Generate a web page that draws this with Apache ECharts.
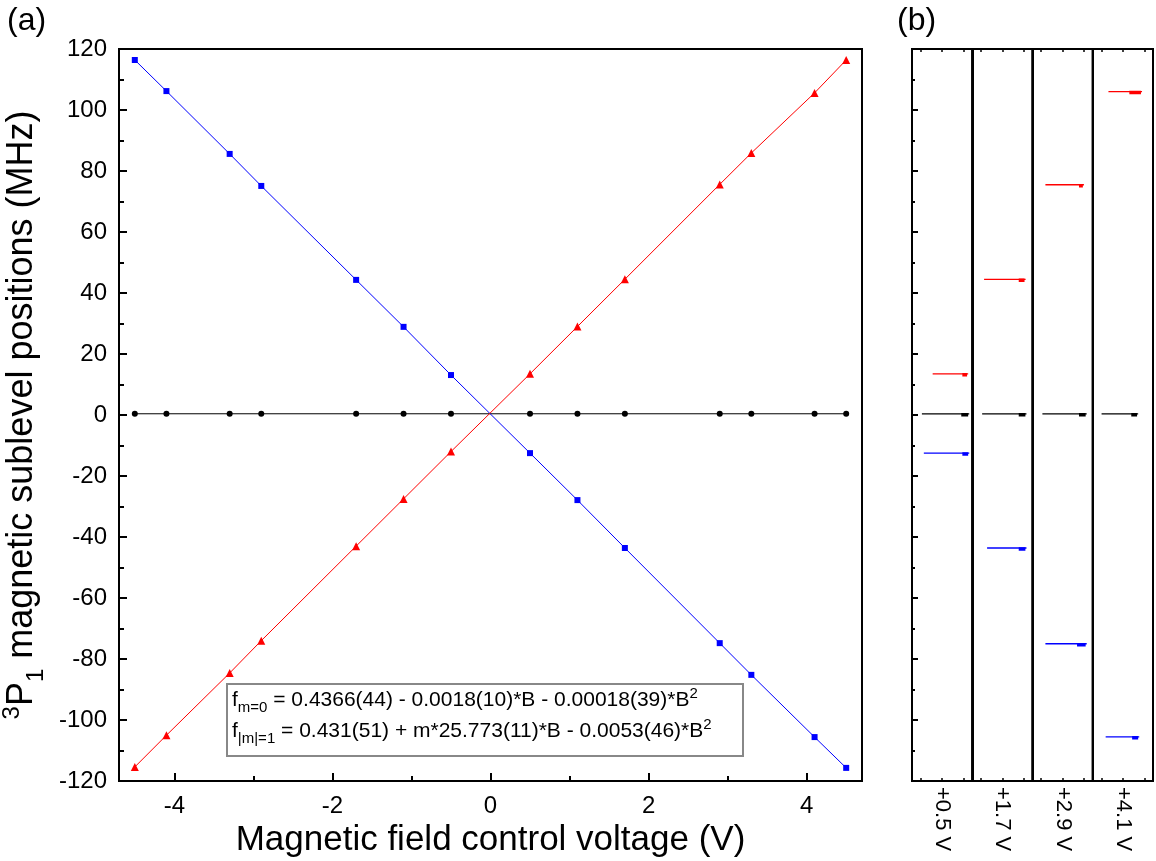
<!DOCTYPE html>
<html>
<head>
<meta charset="utf-8">
<script src="https://cdn.jsdelivr.net/npm/echarts@6/dist/echarts.min.js"></script>
<style>html,body{margin:0;padding:0;background:#fff}#c{width:1156px;height:861px}</style>
</head>
<body>
<div id="c"></div>
<script>
// ---- Data (panel a) ----
const voltages = [-4.5, -4.1, -3.3, -2.9, -1.7, -1.1, -0.5, 0.5, 1.1, 1.7, 2.9, 3.3, 4.1, 4.5];
const mMinus = [116.4, 106.2, 85.6, 75.1, 44.3, 28.9, 13.1, -12.5, -27.9, -43.6, -74.8, -85.2, -105.6, -115.7];
const mPlus  = [-115.4, -105.0, -84.6, -74.0, -43.0, -27.5, -12.0, 13.5, 29.0, 44.5, 75.6, 85.9, 105.6, 116.4];
const mZero  = [0.4, 0.4, 0.4, 0.4, 0.4, 0.4, 0.4, 0.4, 0.4, 0.4, 0.4, 0.4, 0.4, 0.4];
// ---- Data (panel b): [traceStart, peakStart, traceEnd, frequency] ----
const bLabels = ['+0.5 V', '+1.7 V', '+2.9 V', '+4.1 V'];
const peaksRed   = [[0.56, 1.94, 2.21, 13.5], [0.15, 1.76, 2.08, 44.5], [0.20, 1.76, 1.99, 75.5], [0.33, 1.30, 1.89, 106.0]];
const peaksBlack = [[0.06, 1.89, 2.26, 0.4], [0.06, 1.76, 2.12, 0.4], [0.06, 1.76, 2.12, 0.4], [0.01, 1.39, 1.71, 0.4]];
const peaksBlue  = [[0.15, 1.94, 2.26, -12.5], [0.29, 1.76, 2.12, -43.6], [0.20, 1.67, 2.12, -75.0], [0.20, 1.43, 1.76, -105.5]];

const FONT = 'Liberation Sans, Arial, sans-serif';
const chart = echarts.init(document.getElementById('c'), null, {renderer: 'canvas'});

const grids = [{left: 119, top: 49, width: 743, height: 732, outerBoundsMode: 'none', containLabel: false,
  show: true, borderColor: '#000', borderWidth: 2, backgroundColor: 'transparent'}];
const xAxes = [
  {gridIndex: 0, type: 'value', position: 'bottom', min: -4.7, max: 4.7, minInterval: 2, maxInterval: 2,
   axisLine: {show: true, onZero: false, lineStyle: {color: '#000', width: 2}},
   axisTick: {show: true, inside: true, length: 8, lineStyle: {color: '#000', width: 2}},
   axisLabel: {show: true, showMinLabel: false, showMaxLabel: false, color: '#000', fontSize: 24, fontFamily: FONT, margin: 13},
   splitLine: {show: false},
   name: 'Magnetic field control voltage (V)', nameLocation: 'middle', nameGap: 40,
   nameTextStyle: {color: '#000', fontSize: 35, fontFamily: FONT}},
  {gridIndex: 0, type: 'value', position: 'bottom', min: -4.7, max: 4.7, minInterval: 1, maxInterval: 1,
   axisLine: {show: false, onZero: false},
   axisTick: {show: true, inside: true, length: 5, lineStyle: {color: '#000', width: 2}},
   axisLabel: {show: false}, splitLine: {show: false}}
];
const yAxes = [
  {gridIndex: 0, type: 'value', min: -120, max: 120, interval: 20,
   axisLine: {show: true, onZero: false, lineStyle: {color: '#000', width: 2}},
   axisTick: {show: true, inside: true, length: 8, lineStyle: {color: '#000', width: 2}},
   minorTick: {show: true, splitNumber: 2, length: 5, lineStyle: {color: '#000', width: 2}},
   axisLabel: {color: '#000', fontSize: 24, fontFamily: FONT, margin: 12},
   splitLine: {show: false},
   name: '{sup|3}{big|P}{sub|1}{big| magnetic sublevel positions (MHz)}',
   nameLocation: 'middle', nameGap: 72, nameRotate: 90,
   nameTextStyle: {color: '#000', fontFamily: FONT, fontSize: 36,
     rich: {
       big: {fontSize: 36, fontFamily: FONT, color: '#000', lineHeight: 46, verticalAlign: 'middle'},
       sup: {fontSize: 24, fontFamily: FONT, color: '#000', lineHeight: 46, verticalAlign: 'top', padding: [1, 0, 0, 0]},
       sub: {fontSize: 24, fontFamily: FONT, color: '#000', lineHeight: 46, verticalAlign: 'bottom', padding: [0, 0, -3, 0]}
     }}}
];
const series = [
  {type: 'line', xAxisIndex: 0, yAxisIndex: 0, data: voltages.map((v, i) => [v, mZero[i]]),
   symbol: 'circle', symbolSize: 6, itemStyle: {color: '#000'}, lineStyle: {color: '#000', width: 1}, z: 3},
  {type: 'line', xAxisIndex: 0, yAxisIndex: 0, data: voltages.map((v, i) => [v, mMinus[i]]),
   symbol: 'rect', symbolSize: 6, itemStyle: {color: '#0000ff'}, lineStyle: {color: '#0000ff', width: 1}, z: 4},
  {type: 'line', xAxisIndex: 0, yAxisIndex: 0, data: voltages.map((v, i) => [v, mPlus[i]]),
   symbol: 'triangle', symbolSize: 8, itemStyle: {color: '#ff0000'}, lineStyle: {color: '#ff0000', width: 1}, z: 5}
];

const subW = 60.25;
bLabels.forEach((lab, i) => {
  grids.push({left: 912 + i * subW, top: 49, width: subW, height: 732, outerBoundsMode: 'none', containLabel: false,
    show: true, borderColor: '#000', borderWidth: 2, backgroundColor: 'transparent'});
  const gi = i + 1;
  xAxes.push({gridIndex: gi, type: 'value', position: 'bottom', min: -0.4, max: 2.4, minInterval: 1, maxInterval: 1,
    axisLine: {show: true, onZero: false, lineStyle: {color: '#000', width: 2}},
    axisTick: {show: true, inside: true, length: 3, lineStyle: {color: '#000', width: 1.5}},
    axisLabel: {show: false}, splitLine: {show: false},
    name: lab, nameLocation: 'middle', nameGap: 6, nameRotate: -90,
    nameTextStyle: {color: '#000', fontSize: 22, fontFamily: FONT}});
  xAxes.push({gridIndex: gi, type: 'value', position: 'top', min: -0.4, max: 2.4, minInterval: 1, maxInterval: 1,
    axisLine: {show: true, onZero: false, lineStyle: {color: '#000', width: 2}},
    axisTick: {show: true, inside: true, length: 3, lineStyle: {color: '#000', width: 1.5}},
    axisLabel: {show: false}, splitLine: {show: false}});
  yAxes.push({gridIndex: gi, type: 'value', min: -120, max: 120, interval: 20,
    axisLine: {show: true, onZero: false, lineStyle: {color: '#000', width: 2}},
    axisTick: {show: i === 0, inside: true, length: 6, lineStyle: {color: '#000', width: 2}},
    minorTick: {show: i === 0, splitNumber: 2, length: 3, lineStyle: {color: '#000', width: 2}},
    axisLabel: {show: false}, splitLine: {show: false}});
  const xb = 2 * i + 2; // bottom axis index for this subpanel
  const yi = gi;
  [[peaksRed, '#ff0000'], [peaksBlack, '#000000'], [peaksBlue, '#0000ff']].forEach(([arr, col]) => {
    const p = arr[i];
    series.push({type: 'line', xAxisIndex: xb, yAxisIndex: yi, data: [[p[0], p[3]], [p[2], p[3]]],
      symbol: 'none', lineStyle: {color: col, width: 1.3}, silent: true});
    series.push({type: 'line', xAxisIndex: xb, yAxisIndex: yi, data: [[p[1], p[3] - 0.3], [p[2] - 0.05, p[3] - 0.3]],
      symbol: 'none', lineStyle: {color: col, width: 3.5}, silent: true});
  });
});

const richEq = {
  n: {fontSize: 21, fontFamily: FONT, color: '#000', lineHeight: 30, verticalAlign: 'middle'},
  sub: {fontSize: 15, fontFamily: FONT, color: '#000', lineHeight: 30, verticalAlign: 'bottom', padding: [0, 0, 0, 0]},
  sup: {fontSize: 15, fontFamily: FONT, color: '#000', lineHeight: 30, verticalAlign: 'top', padding: [1, 0, 0, 0]}
};

chart.setOption({
  animation: false,
  backgroundColor: '#fff',
  grid: grids,
  xAxis: xAxes,
  yAxis: yAxes,
  series: series,
  graphic: [
    {type: 'text', left: 7, top: 5, style: {text: '(a)', fontSize: 32, fontFamily: FONT, fill: '#000'}},
    {type: 'text', left: 897, top: 5, style: {text: '(b)', fontSize: 32, fontFamily: FONT, fill: '#000'}},
    {type: 'rect', left: 226, top: 683, shape: {width: 516, height: 72}, style: {fill: '#fff', stroke: '#888', lineWidth: 2}, z: 10},
    {type: 'text', left: 232, top: 685, z: 11, style: {
      text: '{n|f}{sub|m=0}{n| = 0.4366(44) - 0.0018(10)*B - 0.00018(39)*B}{sup|2}', rich: richEq}},
    {type: 'text', left: 232, top: 716, z: 11, style: {
      text: '{n|f}{sub||m|=1}{n| = 0.431(51) + m*25.773(11)*B - 0.0053(46)*B}{sup|2}', rich: richEq}}
  ]
});
</script>
</body>
</html>
